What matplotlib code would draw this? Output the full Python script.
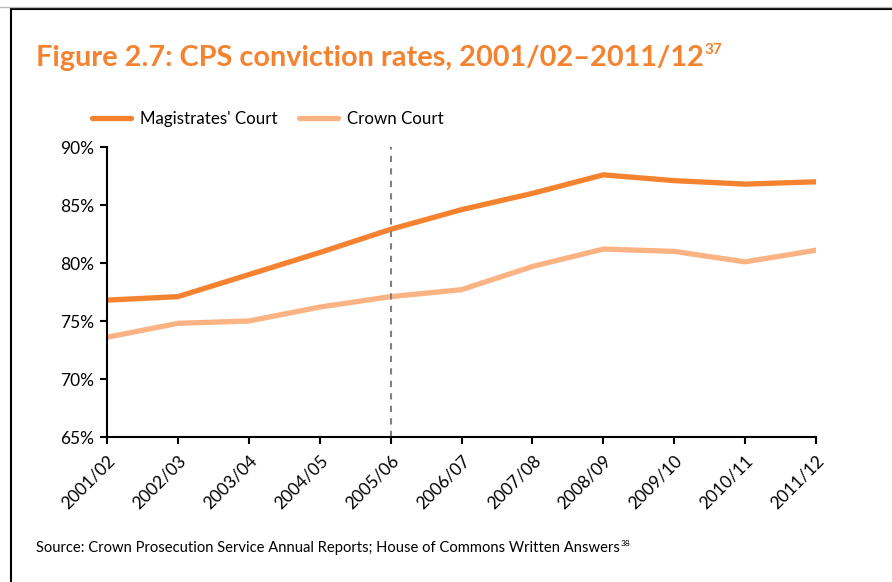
import matplotlib
matplotlib.use("Agg")
import matplotlib.pyplot as plt
from matplotlib.lines import Line2D

years = ["2001/02", "2002/03", "2003/04", "2004/05", "2005/06", "2006/07",
         "2007/08", "2008/09", "2009/10", "2010/11", "2011/12"]
magistrates = [76.8, 77.1, 79.0, 80.9, 82.9, 84.6, 86.0, 87.6, 87.1, 86.8, 87.0]
crown = [73.6, 74.8, 75.0, 76.2, 77.1, 77.7, 79.7, 81.2, 81.0, 80.1, 81.1]
yticks = [65, 70, 75, 80, 85, 90]
marker_year = "2005/06"

dark = "#F5822F"
light = "#FBB384"
plt.rcParams['font.family'] = ['Lato', 'DejaVu Sans']

fig = plt.figure(figsize=(8.92, 5.82), dpi=100)
W, H = 892, 582

# page frame
fig.add_artist(Line2D([11 / W, 11 / W], [0, 1 - 9 / H], color="black", lw=1.5))
fig.add_artist(Line2D([11 / W, 1], [1 - 9 / H, 1 - 9 / H], color="black", lw=1.5))
fig.add_artist(Line2D([0, 1], [1 - 7 / H, 1 - 7 / H], color="#bbbbbb", lw=1))

ax = fig.add_axes([107 / W, 1 - 437 / H, (816 - 107) / W, (437 - 147) / H])
x = list(range(len(years)))
ax.plot(x, magistrates, color=dark, lw=3.8, solid_capstyle="round",
        solid_joinstyle="round", label="Magistrates' Court")
ax.plot(x, crown, color=light, lw=3.8, solid_capstyle="round",
        solid_joinstyle="round", label="Crown Court")
xm = years.index(marker_year)
ax.axvline(xm, color="#808080", lw=1.5, ls=(0, (3, 3)))

ax.set_xlim(0, len(years) - 1)
ax.set_ylim(yticks[0], yticks[-1])
ax.set_yticks(yticks)
ax.set_yticklabels([f"{v}%" for v in yticks])
ax.set_xticks(x)
ax.set_xticklabels(years, rotation=45, ha="right", rotation_mode="anchor")
for s in ["top", "right"]:
    ax.spines[s].set_visible(False)
for s in ["left", "bottom"]:
    ax.spines[s].set_linewidth(1.5)
ax.tick_params(axis="both", labelsize=12.5, width=1.5, length=5, color="black")
ax.tick_params(axis="x", pad=6)
ax.tick_params(axis="y", pad=4)

fig.legend(loc="upper left", bbox_to_anchor=(85 / W, 1 - 104 / H), ncol=2,
           frameon=False, fontsize=12.2, handlelength=2.3, handletextpad=0.55,
           columnspacing=1.25, borderaxespad=0)

title = fig.text(36 / W, 1 - 66 / H, "Figure 2.7: CPS conviction rates, 2001/02\u20132011/12",
                 color=dark, fontsize=20.8, fontweight="bold", va="baseline")
fig.canvas.draw()
bb = title.get_window_extent(fig.canvas.get_renderer())
fig.text(bb.x1 / W + 1 / W, 1 - 54 / H, "37", color=dark, fontsize=11,
         fontweight="bold", va="baseline")

src = fig.text(36 / W, 1 - 552 / H,
               "Source: Crown Prosecution Service Annual Reports; House of Commons Written Answers",
               fontsize=10.6, va="baseline")
fig.canvas.draw()
bb = src.get_window_extent(fig.canvas.get_renderer())
fig.text(bb.x1 / W + 1 / W, 1 - 546 / H, "38", fontsize=6, va="baseline")

fig.savefig("out.png", dpi=100)
